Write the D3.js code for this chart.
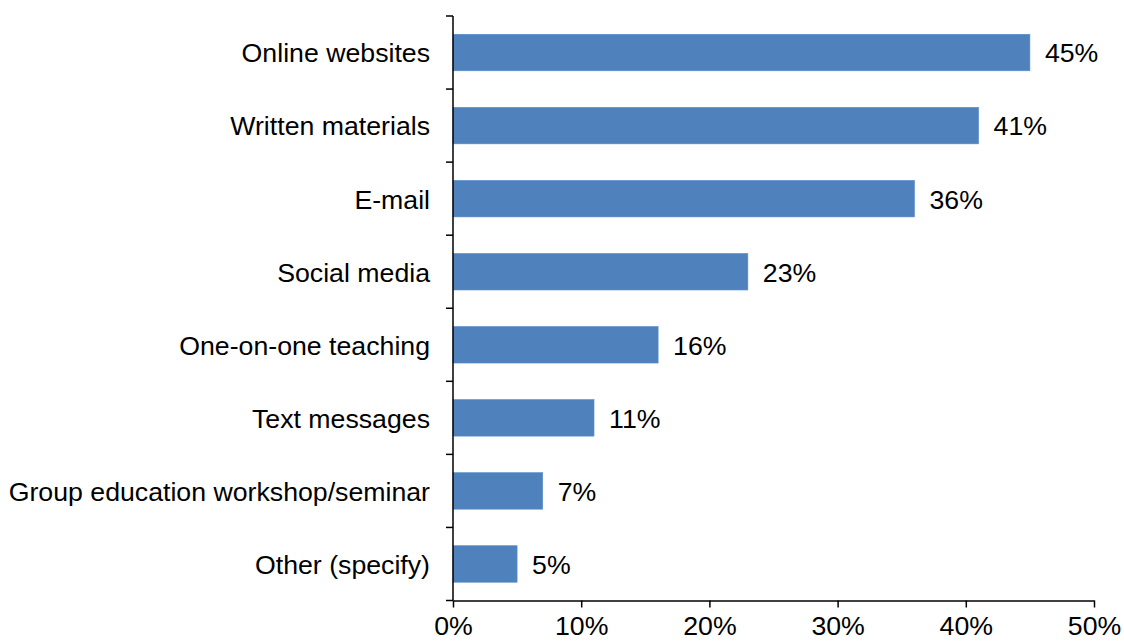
<!DOCTYPE html>
<html>
<head>
<meta charset="utf-8">
<script src="https://cdn.jsdelivr.net/npm/d3@7"></script>
<style>
  html, body { margin: 0; padding: 0; background: #fff; }
  svg { display: block; font-family: "Liberation Sans", Arial, sans-serif; }
</style>
</head>
<body>
<svg id="chart" width="1124" height="644"></svg>
<script>
const categories = ["Online websites", "Written materials", "E-mail", "Social media",
  "One-on-one teaching", "Text messages", "Group education workshop/seminar", "Other (specify)"];
const values = [45, 41, 36, 23, 16, 11, 7, 5];
const xTickValues = [0, 10, 20, 30, 40, 50];
const xTickLabels = ["0%", "10%", "20%", "30%", "40%", "50%"];

(function () {
const svg = d3.select("#chart");
const plotLeft = 453, plotRight = 1094, plotTop = 16, plotBottom = 600.5;
const fontSize = 26.7;

const x = d3.scaleLinear().domain([0, 50]).range([plotLeft, plotRight]);
const y = d3.scaleBand().domain(categories).range([plotTop, plotBottom])
  .paddingInner(0.5).paddingOuter(0.25);

// bars
svg.append("g").selectAll("rect").data(values).join("rect")
  .attr("x", x(0))
  .attr("y", (d, i) => y(categories[i]))
  .attr("width", d => x(d) - x(0))
  .attr("height", y.bandwidth())
  .attr("fill", "#4F81BD")
  .attr("stroke", "#5B8DC8")
  .attr("stroke-width", 0.6);

// value labels
svg.append("g").selectAll("text").data(values).join("text")
  .attr("x", d => x(d) + 15)
  .attr("y", (d, i) => y(categories[i]) + y.bandwidth() / 2)
  .attr("dy", "0.37em")
  .attr("font-size", fontSize)
  .attr("fill", "#000")
  .text(d => d + "%");

// category labels
svg.append("g").selectAll("text").data(categories).join("text")
  .attr("x", 430)
  .attr("y", d => y(d) + y.bandwidth() / 2)
  .attr("dy", "0.37em")
  .attr("text-anchor", "end")
  .attr("font-size", fontSize)
  .attr("fill", "#000")
  .text(d => d);

// y axis line and boundary ticks
const step = y.step();
const boundaries = categories.map(c => y(c) - step * y.paddingInner() / 2);
boundaries.push(y(categories[categories.length - 1]) + y.bandwidth() + step * y.paddingInner() / 2);
const axisG = svg.append("g").attr("stroke", "#000").attr("stroke-width", 1.5).attr("fill", "none");
axisG.append("line").attr("x1", x(0)).attr("x2", x(0)).attr("y1", boundaries[0]).attr("y2", boundaries[boundaries.length - 1]);
axisG.selectAll("line.yt").data(boundaries).join("line").attr("class", "yt")
  .attr("x1", x(0) - 7).attr("x2", x(0)).attr("y1", d => d).attr("y2", d => d);

// x axis
const xAxis = d3.axisBottom(x)
  .tickValues(xTickValues)
  .tickFormat((d, i) => xTickLabels[i])
  .tickSize(7)
  .tickSizeOuter(0)
  .tickPadding(9);
const xg = svg.append("g").attr("transform", `translate(0,${plotBottom})`).call(xAxis);
xg.select(".domain").attr("stroke", "#000").attr("stroke-width", 1.5);
xg.selectAll(".tick line").attr("stroke", "#000").attr("stroke-width", 1.5);
xg.selectAll(".tick text")
  .attr("font-size", fontSize)
  .attr("font-family", "Liberation Sans, Arial, sans-serif")
  .attr("fill", "#000");
})();
</script>
</body>
</html>
